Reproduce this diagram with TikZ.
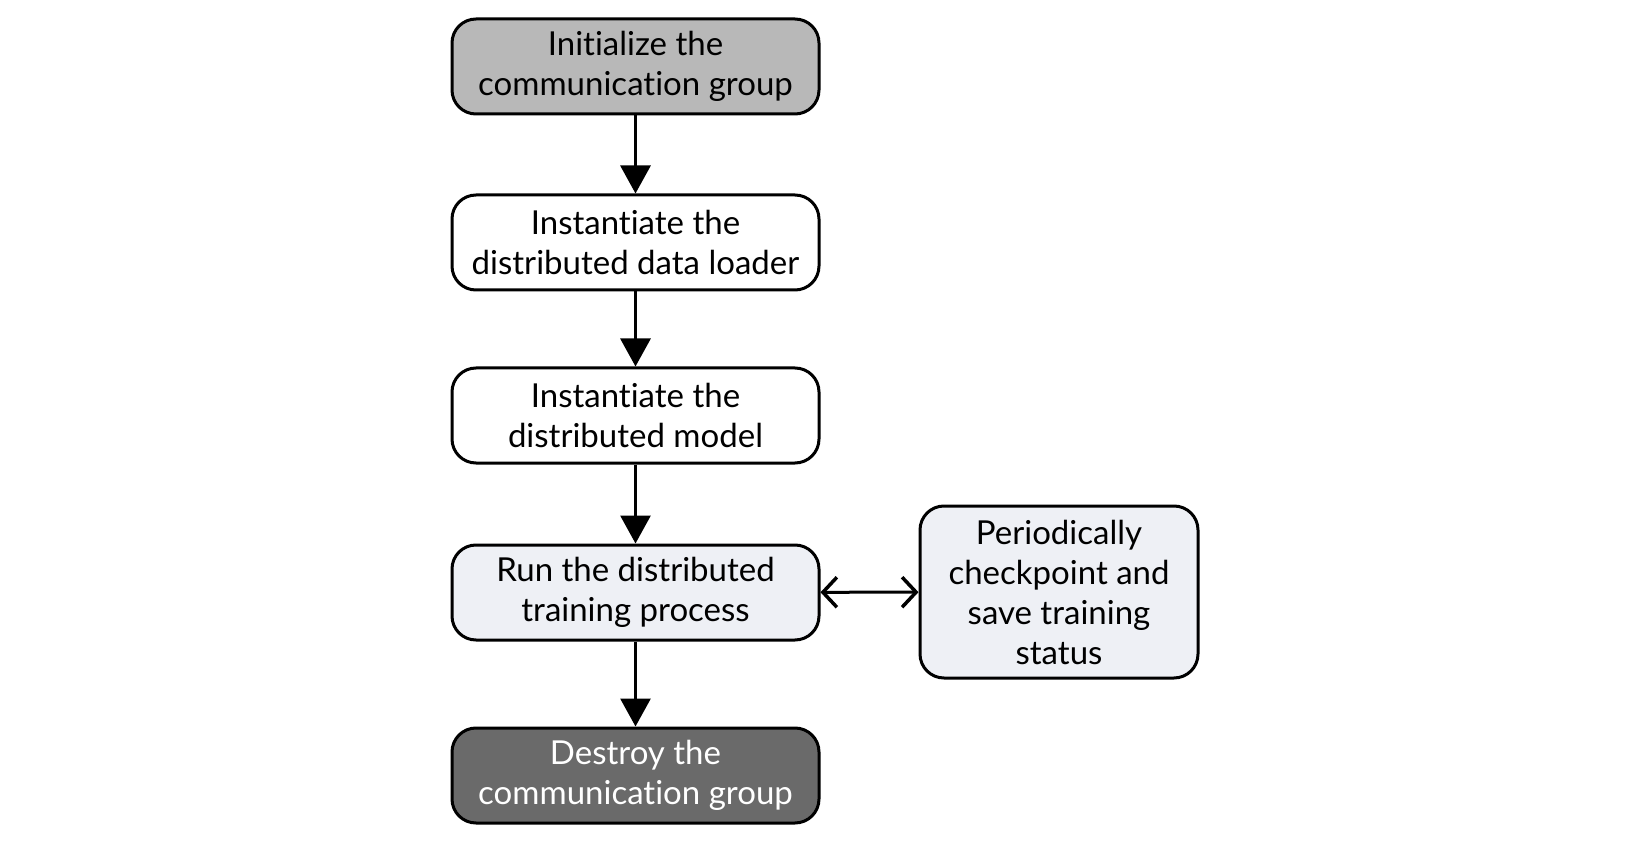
\documentclass[tikz,border=0pt]{standalone}
\usepackage{fontspec}
\setmainfont[Ligatures=NoCommon]{Lato}
\usetikzlibrary{arrows.meta}

\definecolor{initgray}{HTML}{B8B8B8}
\definecolor{runfill}{HTML}{EEF0F5}
\definecolor{endgray}{HTML}{6A6A6A}

\tikzset{
    stepbox/.style={draw=black, line width=3pt, rounded corners=24pt, align=center,
        minimum width=367pt, minimum height=95pt, inner sep=0pt,
        font=\fontsize{33}{40}\selectfont},
    flow/.style={line width=3pt, -{Triangle[length=28pt,width=30pt]}},
    both/.style={line width=3pt, {Straight Barb[length=14pt,width=30pt,line width=3.5pt]}-{Straight Barb[length=14pt,width=30pt,line width=3.5pt]}}
}

\begin{document}
\begin{tikzpicture}[x=1pt, y=-1pt]
        \useasboundingbox (0,0) rectangle (1650,842);
        \def\cx{635.5}

        \node[stepbox, fill=initgray] (init) at (\cx,66.5) {Initialize the\\communication group};
        \node[stepbox, fill=white] (loader) at (\cx,242.5) {Instantiate the\\distributed data loader};
        \node[stepbox, fill=white] (model) at (\cx,415.5) {Instantiate the\\distributed model};
        \node[stepbox, fill=runfill] (train) at (\cx,592.5) {Run the distributed\\training process};
        \node[stepbox, fill=endgray, text=white] (destroy) at (\cx,775.5) {Destroy the\\communication group};

        \node[stepbox, fill=runfill, minimum width=278pt, minimum height=172pt] (ckpt) at (1059,592) {Periodically\\checkpoint and\\save training\\status};

        \draw[flow] (init) -- (loader);
        \draw[flow] (loader) -- (model);
        \draw[flow] (model) -- (train);
        \draw[flow] (train) -- (destroy);
        \draw[both] (train) -- (ckpt);
    \end{tikzpicture}
\end{document}
